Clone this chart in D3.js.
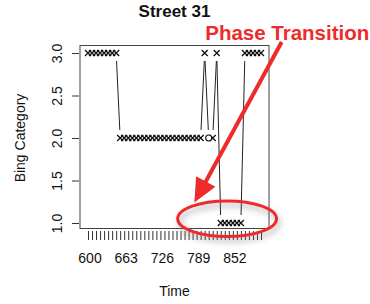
<!DOCTYPE html>
<html lang="en">
<head>
<meta charset="utf-8">
<title>Street 31</title>
<style>
body{
  margin: 0;
  background: #fff;
}
svg text{
  font-family: "Liberation Sans", Arial, sans-serif;
  fill: #111;
}
.axis text{
  font-size: 14px;
}
.axis line{
  stroke: #333;
}
</style>
</head>
<body>
<div id="chart"></div>
<script src="https://d3js.org/d3.v7.min.js"></script>
<script>
  // time stamps (one per tick on the x axis)
  const times = [600, 607, 614, 621, 628, 635, 642, 649, 656, 663, 670, 677, 684, 691, 698,
                 705, 712, 719, 726, 733, 740, 747, 754, 761, 768, 775, 782, 789, 796, 803,
                 810, 817, 824, 831, 838, 845, 852, 859, 866, 873, 880, 887, 894, 901];
  // Bing category at each time
  const category = [3, 3, 3, 3, 3, 3, 3, 3,
                    2, 2, 2, 2, 2, 2, 2, 2, 2, 2, 2, 2, 2, 2, 2, 2, 2, 2, 2, 2, 2,
                    3, 2, 2, 3,
                    1, 1, 1, 1, 1, 1,
                    3, 3, 3, 3, 3];
  // points drawn as an open circle instead of a cross
  const circled = [810];
  const xLabels = [600, 663, 726, 789, 852];
  const yTicks = [1.0, 1.5, 2.0, 2.5, 3.0];

  const width = 370, height = 304;
  const box = { left: 80, right: 269, top: 45.5, bottom: 228.5 };

  const svg = d3.select("#chart").append("svg")
    .attr("width", width)
    .attr("height", height);

  const x = d3.scaleLinear().domain([600, 901]).range([88, 261]);
  const y = d3.scaleLinear().domain([1, 3]).range([223, 53]);

  // plot box
  svg.append("rect")
    .attr("x", box.left).attr("y", box.top)
    .attr("width", box.right - box.left).attr("height", box.bottom - box.top)
    .attr("fill", "none").attr("stroke", "#444").attr("stroke-width", 1);

  // x axis: a tick at every time, labels every 9th
  const gx = svg.append("g").attr("class", "axis")
    .attr("transform", "translate(0,231)")
    .call(d3.axisBottom(x).tickValues(times).tickSize(9).tickSizeOuter(0).tickPadding(13)
      .tickFormat(d => xLabels.includes(d) ? d : ""));
  gx.select(".domain").remove();
  gx.selectAll("text").attr("dx", "1.5");

  // y axis with rotated labels
  const gy = svg.append("g").attr("class", "axis")
    .attr("transform", `translate(${box.left - 1},0)`)
    .call(d3.axisLeft(y).tickValues(yTicks).tickSize(7).tickFormat(d3.format(".1f")));
  gy.select(".domain").remove();
  gy.selectAll("text")
    .attr("x", null).attr("dy", null)
    .attr("text-anchor", "middle")
    .attr("transform", "translate(-17,0) rotate(-90)");

  // titles
  svg.append("text")
    .attr("x", (box.left + box.right) / 2).attr("y", 17)
    .attr("text-anchor", "middle")
    .style("font-size", "17px").style("font-weight", "bold")
    .text("Street 31");
  svg.append("text")
    .attr("x", (box.left + box.right) / 2).attr("y", 296)
    .attr("text-anchor", "middle")
    .style("font-size", "14px")
    .text("Time");
  svg.append("text")
    .attr("transform", "translate(25,138) rotate(-90)")
    .attr("text-anchor", "middle")
    .style("font-size", "14px")
    .text("Bing Category");

  // type "b" style: segments between points, with a gap around each point
  const pts = times.slice(0, category.length)
    .map((t, i) => ({ t: t, v: category[i], px: x(t), py: y(category[i]) }));
  const gap = 8;
  const segs = [];
  for (let i = 0; i < pts.length - 1; i++) {
    const a = pts[i], b = pts[i + 1];
    const dx = b.px - a.px, dy = b.py - a.py;
    const d = Math.hypot(dx, dy);
    if (d > 2 * gap) {
      const ux = dx / d, uy = dy / d;
      segs.push([a.px + ux * gap, a.py + uy * gap, b.px - ux * gap, b.py - uy * gap]);
    }
  }
  svg.append("g").selectAll("line")
    .data(segs)
    .enter().append("line")
    .attr("x1", d => d[0]).attr("y1", d => d[1])
    .attr("x2", d => d[2]).attr("y2", d => d[3])
    .attr("stroke", "#222").attr("stroke-width", 1);

  // markers
  const marks = svg.append("g");
  marks.selectAll("path")
    .data(pts.filter(p => !circled.includes(p.t)))
    .enter().append("path")
    .attr("d", d => `M${d.px - 3},${d.py - 3}L${d.px + 3},${d.py + 3}M${d.px - 3},${d.py + 3}L${d.px + 3},${d.py - 3}`)
    .attr("stroke", "#111").attr("stroke-width", 1.3).attr("fill", "none");
  marks.selectAll("circle")
    .data(pts.filter(p => circled.includes(p.t)))
    .enter().append("circle")
    .attr("cx", d => d.px).attr("cy", d => d.py).attr("r", 3)
    .attr("fill", "#fff").attr("stroke", "#111").attr("stroke-width", 1.1);

  // annotation: ellipse, arrow and label, placed in data units
  const red = "#ee2b2b";
  const defs = svg.append("defs");
  defs.append("filter").attr("id", "shadow")
    .attr("x", "-30%").attr("y", "-50%").attr("width", "160%").attr("height", "200%")
    .append("feDropShadow")
    .attr("dx", 2).attr("dy", 4).attr("stdDeviation", 3)
    .attr("flood-color", "#777").attr("flood-opacity", 0.6);

  const ring = { t: 842, v: 1.05, rt: 86, rv: 0.21 };
  svg.append("ellipse")
    .attr("cx", x(ring.t)).attr("cy", y(ring.v))
    .attr("rx", x(ring.t + ring.rt) - x(ring.t))
    .attr("ry", y(ring.v - ring.rv) - y(ring.v))
    .attr("fill", "none").attr("stroke", red).attr("stroke-width", 3)
    .attr("filter", "url(#shadow)");

  const arrowFrom = { t: 937, v: 3.13 }, arrowTo = { t: 785, v: 1.24 };
  const ax0 = x(arrowFrom.t), ay0 = y(arrowFrom.v), ax1 = x(arrowTo.t), ay1 = y(arrowTo.v);
  const al = Math.hypot(ax1 - ax0, ay1 - ay0);
  const ux = (ax1 - ax0) / al, uy = (ay1 - ay0) / al;
  const headLen = 24, headW = 11;
  const bx = ax1 - ux * headLen, by = ay1 - uy * headLen;
  svg.append("line")
    .attr("x1", ax0).attr("y1", ay0).attr("x2", bx + ux * 4).attr("y2", by + uy * 4)
    .attr("stroke", red).attr("stroke-width", 4);
  svg.append("path")
    .attr("d", `M${ax1},${ay1}L${bx - uy * headW},${by + ux * headW}L${bx + uy * headW},${by - ux * headW}Z`)
    .attr("fill", red);

  svg.append("text")
    .attr("x", x(804)).attr("y", y(3.15))
    .style("font-size", "20.5px").style("font-weight", "bold")
    .style("fill", red)
    .text("Phase Transition");
</script>
</body>
</html>
